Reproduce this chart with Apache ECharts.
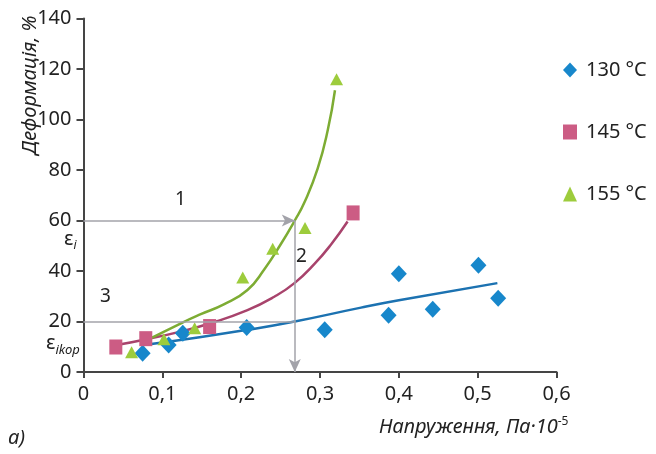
<!DOCTYPE html>
<html>
<head>
<meta charset="utf-8">
<script src="https://cdn.jsdelivr.net/npm/echarts@6/dist/echarts.min.js"></script>
<style>
  html, body { margin: 0; padding: 0; background: #fff; }
  #chart { width: 656px; height: 454px; }
</style>
</head>
<body>
<div id="chart"></div>
<script>
// measured points, [stress, deformation]
const pts130 = [[0.075, 7.4], [0.108, 10.7], [0.126, 15.3], [0.207, 17.6], [0.306, 16.7],
    [0.387, 22.5], [0.400, 38.9], [0.443, 24.9], [0.501, 42.3], [0.526, 29.2]];
const pts145 = [[0.041, 9.9], [0.079, 13.2], [0.160, 18.0], [0.342, 63.0]];
const pts155 = [[0.061, 7.8], [0.102, 13.0], [0.141, 17.3], [0.202, 37.4], [0.240, 48.8],
    [0.281, 57.0], [0.321, 115.9]];

// fitted curves
const fit130 = [[0.076, 10.7], [0.123, 12.7], [0.208, 16.7], [0.268, 20], [0.352, 25.5],
    [0.4, 28.4], [0.525, 35.2]];
const fit145 = [[0.042, 10.7], [0.08, 13], [0.123, 16], [0.161, 19.3], [0.208, 24.5], [0.242, 29.8],
    [0.268, 35.3], [0.293, 42.8], [0.314, 50.5], [0.335, 59.6]];
const fit155 = [[0.08, 12.5], [0.123, 19.2], [0.148, 22.8], [0.178, 26.8], [0.208, 32.5],
    [0.229, 40.5], [0.25, 50.5], [0.268, 60], [0.28, 67], [0.297, 80.5], [0.31, 96], [0.319, 111.6]];

const legendNames = ["130 °C", "145 °C", "155 °C"];

// guide lines
const guideX = 0.268;
const guideTop = 60;
const guideLow = 20;

const chart = echarts.init(document.getElementById("chart"));

const axisColor = "#454545";
const guideColor = "#a3a3aa";
const font = "Noto Sans";

chart.setOption({
    animation: false,
    textStyle: { fontFamily: font },
    grid: { left: 83.5, right: 99.5, top: 18.5, bottom: 82, containLabel: false },
    legend: {
        orient: "vertical",
        left: 558,
        top: 55,
        itemGap: 42,
        itemWidth: 14,
        itemHeight: 15,
        textStyle: { fontSize: 20, color: "#222", fontFamily: font, padding: [0, 0, 0, 4] },
        data: legendNames
    },
    xAxis: {
        type: "value",
        min: 0,
        max: 0.6,
        interval: 0.1,
        splitLine: { show: false },
        axisLine: { lineStyle: { color: axisColor, width: 2 } },
        axisTick: { length: 6, lineStyle: { color: axisColor, width: 2 } },
        axisLabel: {
            fontSize: 20, color: "#222", margin: 12,
            formatter: v => v === 0 ? "0" : v.toFixed(1).replace(".", ",")
        }
    },
    yAxis: {
        type: "value",
        min: 0,
        max: 140,
        interval: 20,
        splitLine: { show: false },
        axisLine: { show: true, lineStyle: { color: axisColor, width: 2 } },
        axisTick: { show: true, length: 7, lineStyle: { color: axisColor, width: 2 } },
        axisLabel: { fontSize: 20, color: "#222", margin: 12 }
    },
    graphic: [
        {
            type: "text", x: 30, y: 85, rotation: Math.PI / 2,
            style: {
                text: "Деформація, %", font: "italic 20px " + font, fill: "#222",
                align: "center", verticalAlign: "middle"
            }
        },
        {
            type: "text", x: 379, y: 416,
            style: {
                text: "{a|Напруження, Па·10}{s|-5}",
                rich: {
                    a: { font: "italic 20px " + font, fill: "#222" },
                    s: { font: "12px " + font, fill: "#222", verticalAlign: "top", padding: [0, 0, 10, 0] }
                }
            }
        },
        { type: "text", x: 8, y: 428, style: { text: "a)", font: "italic 20px " + font, fill: "#222" } },
        { type: "text", x: 175, y: 190, style: { text: "1", font: "19px " + font, fill: "#222" } },
        { type: "text", x: 296, y: 247, style: { text: "2", font: "19px " + font, fill: "#222" } },
        { type: "text", x: 100, y: 287, style: { text: "3", font: "19px " + font, fill: "#222" } },
        {
            type: "text", x: 64, y: 226,
            style: {
                text: "{e|ε}{i|i}",
                rich: {
                    e: { font: "20px " + font, fill: "#222" },
                    i: { font: "italic 12px " + font, fill: "#222", padding: [14, 0, 0, 0] }
                }
            }
        },
        {
            type: "text", x: 46, y: 330,
            style: {
                text: "{e|ε}{i|ikop}",
                rich: {
                    e: { font: "20px " + font, fill: "#222" },
                    i: { font: "italic 13px " + font, fill: "#222", padding: [14, 0, 0, 0] }
                }
            }
        }
    ],
    series: [
        {
            name: "guides",
            type: "line",
            data: [],
            silent: true,
            markLine: {
                silent: true,
                symbolSize: [9, 13],
                label: { show: false },
                lineStyle: { color: guideColor, width: 1.5, type: "solid" },
                data: [
                    [{ coord: [0, guideTop], symbol: "none" }, { coord: [guideX, guideTop], symbol: "arrow" }],
                    [{ coord: [guideX, guideTop], symbol: "none" }, { coord: [guideX, 0], symbol: "arrow" }],
                    [{ coord: [0, guideLow], symbol: "none" }, { coord: [guideX, guideLow], symbol: "none" }]
                ]
            }
        },
        {
            type: "line", data: fit130, smooth: 0.5, showSymbol: false,
            lineStyle: { color: "#1c72b1", width: 2.5 }, z: 3
        },
        {
            type: "line", data: fit145, smooth: 0.5, showSymbol: false,
            lineStyle: { color: "#a8436c", width: 2.5 }, z: 3
        },
        {
            type: "line", data: fit155, smooth: 0.5, showSymbol: false,
            lineStyle: { color: "#7dac33", width: 2.5 }, z: 3
        },
        {
            name: legendNames[0], type: "scatter", data: pts130,
            symbol: "diamond", symbolSize: [16, 17],
            itemStyle: { color: "#1787cb", opacity: 1 }, z: 4
        },
        {
            name: legendNames[1], type: "scatter", data: pts145,
            symbol: "rect", symbolSize: [13, 15],
            itemStyle: { color: "#cc5c84", opacity: 1 }, z: 4
        },
        {
            name: legendNames[2], type: "scatter", data: pts155,
            symbol: "triangle", symbolSize: [13, 12],
            itemStyle: { color: "#9dcc3c", opacity: 1 }, z: 4
        }
    ]
});
</script>
</body>
</html>
